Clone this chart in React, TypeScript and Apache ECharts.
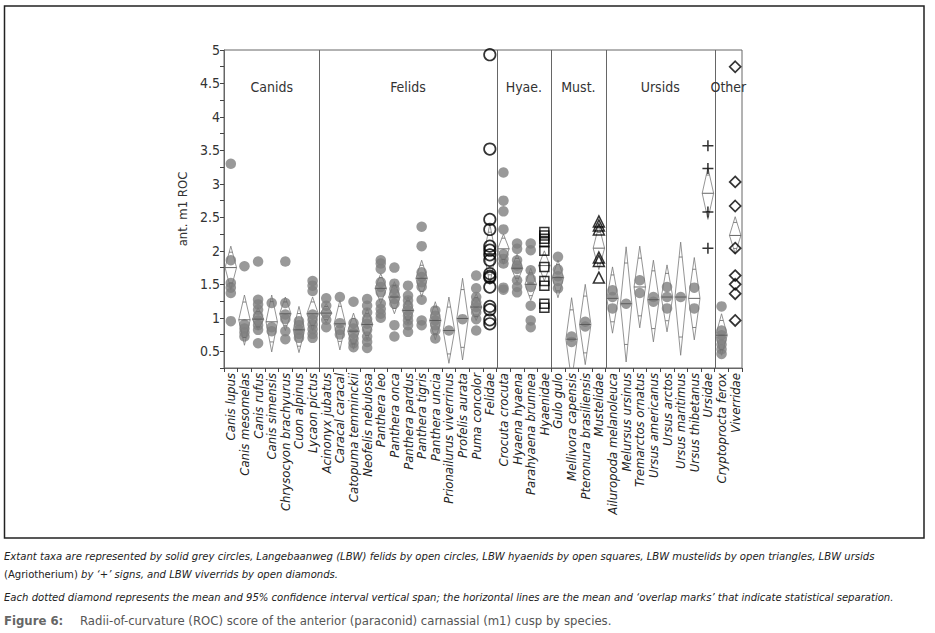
import React, { useEffect, useRef } from "react";
import * as echarts from "echarts";

const FONT = '"Liberation Sans Narrow", "Arial Narrow", "DejaVu Sans Condensed", "Liberation Sans", sans-serif';

// Categories (x axis), by group
const canids = ["Canis lupus", "Canis mesomelas", "Canis rufus", "Canis simensis", "Chrysocyon brachyurus", "Cuon alpinus", "Lycaon pictus"];
const felids = ["Acinonyx jubatus", "Caracal caracal", "Catopuma temminckii", "Neofelis nebulosa", "Panthera leo", "Panthera onca", "Panthera pardus", "Panthera tigris", "Panthera uncia", "Prionailurus viverrinus", "Profelis aurata", "Puma concolor", "Felidae"];
const hyaenids = ["Crocuta crocuta", "Hyaena hyaena", "Parahyaena brunnea", "Hyaenidae"];
const mustelids = ["Gulo gulo", "Mellivora capensis", "Pteronura brasiliensis", "Mustelidae"];
const ursids = ["Ailuropoda melanoleuca", "Melursus ursinus", "Tremarctos ornatus", "Ursus americanus", "Ursus arctos", "Ursus maritimus", "Ursus thibetanus", "Ursidae"];
const others = ["Cryptoprocta ferox", "Viverridae"];
const groupNames = ["Canids", "Felids", "Hyae.", "Must.", "Ursids", "Other"];
const groupLists = [canids, felids, hyaenids, mustelids, ursids, others];
const categories = groupLists.flat();

// y axis
const yMin = 0.25;
const yMax = 5;
const yStep = 0.25;

// Extant taxa (solid grey circles)
const extantSpecies = [
  "Canis lupus", "Canis mesomelas", "Canis rufus", "Canis simensis", "Chrysocyon brachyurus", "Cuon alpinus", "Lycaon pictus",
  "Acinonyx jubatus", "Caracal caracal", "Catopuma temminckii", "Neofelis nebulosa", "Panthera leo", "Panthera onca", "Panthera pardus", "Panthera tigris", "Panthera uncia", "Prionailurus viverrinus", "Profelis aurata", "Puma concolor",
  "Crocuta crocuta", "Hyaena hyaena", "Parahyaena brunnea",
  "Gulo gulo", "Mellivora capensis", "Pteronura brasiliensis",
  "Ailuropoda melanoleuca", "Melursus ursinus", "Tremarctos ornatus", "Ursus americanus", "Ursus arctos", "Ursus maritimus", "Ursus thibetanus",
  "Cryptoprocta ferox",
];
const extantValues = [
  [3.3, 1.86, 1.52, 1.45, 1.37, 0.95],
  [1.77, 0.9, 0.84, 0.78, 0.72],
  [1.84, 1.27, 1.2, 1.12, 1.03, 0.96, 0.89, 0.82, 0.62],
  [1.22, 0.86, 0.8],
  [1.84, 1.22, 1.05, 0.98, 0.8, 0.68],
  [0.95, 0.89, 0.82, 0.76, 0.7],
  [1.55, 1.48, 1.4, 1.05, 0.97, 0.9, 0.83, 0.76, 0.7],
  [1.29, 1.18, 1.07, 0.97, 0.86],
  [1.31, 0.92, 0.82, 0.75],
  [1.24, 0.92, 0.84, 0.77, 0.69, 0.62, 0.56],
  [1.28, 1.18, 1.08, 0.98, 0.91, 0.82, 0.72, 0.64, 0.55],
  [1.86, 1.81, 1.73, 1.53, 1.46, 1.38, 1.21, 1.13, 1.06, 1.0],
  [1.75, 1.51, 1.43, 1.36, 1.28, 1.21, 0.89, 0.72],
  [1.48, 1.33, 1.26, 1.18, 1.11, 1.03, 0.96, 0.89, 0.79],
  [2.36, 2.07, 1.68, 1.61, 1.53, 1.46, 1.27, 0.96, 0.89],
  [1.11, 1.03, 0.96, 0.89, 0.81, 0.69],
  [0.81],
  [0.98],
  [1.63, 1.44, 1.31, 1.23, 1.16, 1.08, 0.98, 0.81],
  [3.17, 2.75, 2.59, 2.32, 1.95, 1.88, 1.81, 1.45, 1.42],
  [2.11, 2.03, 1.86, 1.78, 1.73, 1.56, 1.46, 1.38],
  [2.11, 2.01, 1.71, 1.58, 1.46, 1.18, 0.96, 0.86],
  [1.91, 1.72, 1.62, 1.55, 1.44],
  [0.72, 0.64],
  [0.94, 0.87],
  [1.41, 1.31, 1.14],
  [1.21],
  [1.56, 1.37],
  [1.31, 1.24],
  [1.46, 1.31, 1.14],
  [1.31],
  [1.45, 1.14],
  [1.17, 0.81, 0.74, 0.67, 0.6, 0.53, 0.46],
];

// Langebaanweg (LBW) fossil taxa
const lbwFelidae = [4.93, 3.52, 2.47, 2.32, 2.07, 2.01, 1.94, 1.86, 1.66, 1.62, 1.6, 1.46, 1.17, 1.12, 0.97, 0.91];
const lbwHyaenidae = [2.28, 2.23, 2.18, 2.13, 2.0, 1.76, 1.55, 1.48, 1.21, 1.15];
const lbwMustelidae = [2.44, 2.38, 2.32, 1.9, 1.85, 1.6];
const lbwUrsidae = [3.57, 3.23, 2.58, 2.04];
const lbwViverridae = [4.75, 3.03, 2.67, 2.04, 1.63, 1.5, 1.36, 0.96];

// Means diamonds (mean, lower and upper 95% CI), in category order
const ciMean = [
  1.75, 0.97, 0.98, 0.94, 1.06, 0.82, 1.06,
  1.07, 0.91, 0.8, 0.9, 1.44, 1.31, 1.11, 1.59, 0.96, 0.81, 0.99, 1.16, 1.96,
  2.03, 1.74, 1.5, 1.78,
  1.6, 0.68, 0.9, 2.04,
  1.29, 1.21, 1.46, 1.27, 1.31, 1.31, 1.29, 2.86,
  0.74, 2.23,
];
const ciLower = [
  1.42, 0.59, 0.82, 0.49, 0.81, 0.48, 0.81,
  0.93, 0.52, 0.53, 0.67, 1.21, 1.06, 0.91, 1.31, 0.67, 0.32, 0.37, 0.96, 1.5,
  1.8, 1.53, 1.26, 1.55,
  1.3, 0.06, 0.3, 1.72,
  0.77, 0.34, 0.85, 0.64, 0.79, 0.44, 0.67, 2.47,
  0.44, 1.96,
];
const ciUpper = [
  2.07, 1.34, 1.15, 1.34, 1.31, 1.17, 1.31,
  1.21, 1.26, 1.07, 1.14, 1.66, 1.54, 1.31, 1.86, 1.24, 1.31, 1.59, 1.36, 2.4,
  2.25, 1.95, 1.74, 2.0,
  1.86, 1.3, 1.5, 2.38,
  1.76, 2.06, 2.07, 1.86, 1.79, 2.13, 1.9, 3.24,
  1.06, 2.51,
];

const captionLine1 = "Extant taxa are represented by solid grey circles, Langebaanweg (LBW) felids by open circles, LBW hyaenids by open squares, LBW mustelids by open triangles, LBW ursids";
const captionLine2a = "(Agriotherium)";
const captionLine2b = " by \u2018+\u2019 signs, and LBW viverrids by open diamonds.";
const captionLine3 = "Each dotted diamond represents the mean and 95% confidence interval vertical span; the horizontal lines are the mean and \u2018overlap marks\u2019 that indicate statistical separation.";
const figureLabel = "Figure 6:";
const figureTitle = "Radii-of-curvature (ROC) score of the anterior (paraconid) carnassial (m1) cusp by species.";

const PLUS = "path://M4.3,0H5.7V4.3H10V5.7H5.7V10H4.3V5.7H0V4.3H4.3Z";

function pointsFor(name: string, values: number[]) {
  return values.map((v) => [name, v]);
}

export default function App() {
  const ref = useRef<HTMLDivElement>(null);
  useEffect(() => {
    if (!ref.current) return;
    const chart = echarts.init(ref.current, null, { renderer: "svg" });

    const extantData: any[] = [];
    extantSpecies.forEach((s, i) => extantData.push(...pointsFor(s, extantValues[i])));

    const diamondData = categories.map((_, i) => [i, ciMean[i], ciLower[i], ciUpper[i]]);

    const boundaries: number[][] = [];
    const groupSpans: number[][] = [];
    let acc = 0;
    groupLists.forEach((g, gi) => {
      groupSpans.push([acc, acc + g.length - 1, gi]);
      acc += g.length;
      if (gi < groupLists.length - 1) boundaries.push([acc, 1]);
    });

    const openStyle = { color: "rgba(255,255,255,0)", borderColor: "#000", borderWidth: 1.7 };
    const capSize = 11.2;

    const option: any = {
      animation: false,
      grid: { left: 224, right: 193, top: 50, bottom: 265, show: true, borderColor: "#666", borderWidth: 1, backgroundColor: "transparent" },
      xAxis: {
        type: "category",
        data: categories,
        boundaryGap: true,
        axisLine: { lineStyle: { color: "#666", width: 1 } },
        axisTick: { show: true, length: 4, lineStyle: { color: "#444" } },
        axisLabel: {
          interval: 0,
          rotate: 90,
          margin: 5,
          fontFamily: FONT,
          fontStyle: "italic",
          fontSize: 13,
          color: "#222",
        },
        splitLine: { show: false },
      },
      yAxis: {
        type: "value",
        min: yMin,
        max: yMax,
        interval: yStep,
        name: "ant. m1 ROC",
        nameLocation: "middle",
        nameGap: 22,
        nameTextStyle: { fontFamily: FONT, fontSize: 13, color: "#333" },
        axisLine: { show: true, lineStyle: { color: "#666", width: 1 } },
        axisTick: { show: true, length: 4, lineStyle: { color: "#444" } },
        axisLabel: {
          fontFamily: FONT,
          fontSize: 14,
          color: "#333",
          margin: 4,
          formatter: (v: number) => (Math.abs(v * 2 - Math.round(v * 2)) < 1e-6 ? String(v) : ""),
        },
        splitLine: { show: false },
      },
      series: [
        {
          type: "custom",
          name: "separators",
          silent: true,
          data: boundaries,
          encode: { x: 0, y: 1 },
          renderItem: (params: any, api: any) => {
            const idx = api.value(0);
            const cs = params.coordSys;
            const bw = cs.width / categories.length;
            const x = Math.round(cs.x + idx * bw) + 0.5;
            return {
              type: "line",
              shape: { x1: x, y1: cs.y, x2: x, y2: cs.y + cs.height },
              style: { stroke: "#666", lineWidth: 1 },
            };
          },
          z: 1,
        },
        {
          type: "custom",
          name: "groupLabels",
          silent: true,
          data: groupSpans,
          encode: { x: 0, y: 1 },
          renderItem: (params: any, api: any) => {
            const a = api.value(0);
            const b = api.value(1);
            const gi = api.value(2);
            const cs = params.coordSys;
            const bw = cs.width / categories.length;
            const x = cs.x + ((a + b + 1) / 2) * bw;
            return {
              type: "text",
              x,
              y: cs.y + 37,
              style: {
                text: groupNames[gi],
                fill: "#333",
                fontFamily: FONT,
                fontSize: 14,
                align: "center",
                verticalAlign: "middle",
              },
            };
          },
          z: 2,
        },
        {
          type: "scatter",
          name: "Extant",
          data: extantData,
          symbol: "circle",
          symbolSize: 10.5,
          itemStyle: { color: "#808080" },
          z: 3,
        },
        {
          type: "custom",
          name: "diamonds",
          silent: true,
          clip: true,
          data: diamondData,
          encode: { x: 0, y: 1 },
          renderItem: (params: any, api: any) => {
            const i = api.value(0);
            const m = api.value(1);
            const lo = api.value(2);
            const hi = api.value(3);
            const c = api.coord([i, m]);
            const yTop = api.coord([i, hi])[1];
            const yBot = api.coord([i, lo])[1];
            const bw = api.size([1, 0])[0];
            const hw = bw * 0.42;
            const d = (hi - lo) / 2 / Math.SQRT2;
            const y1 = api.coord([i, m + d])[1];
            const y2 = api.coord([i, m - d])[1];
            const ow = hw * (1 - 1 / Math.SQRT2);
            const cs = params.coordSys;
            return {
              type: "group",
              clipPath: { type: "rect", shape: { x: cs.x, y: cs.y, width: cs.width, height: cs.height } },
              children: [
                {
                  type: "polygon",
                  shape: { points: [[c[0], yTop], [c[0] + hw, c[1]], [c[0], yBot], [c[0] - hw, c[1]]] },
                  style: { fill: "none", stroke: "#7a7a7a", lineWidth: 0.8 },
                },
                { type: "line", shape: { x1: c[0] - hw, y1: c[1], x2: c[0] + hw, y2: c[1] }, style: { stroke: "#555", lineWidth: 0.9 } },
                { type: "line", shape: { x1: c[0] - ow, y1: y1, x2: c[0] + ow, y2: y1 }, style: { stroke: "#666", lineWidth: 0.8 } },
                { type: "line", shape: { x1: c[0] - ow, y1: y2, x2: c[0] + ow, y2: y2 }, style: { stroke: "#666", lineWidth: 0.8 } },
              ],
            };
          },
          z: 4,
        },
        {
          type: "scatter",
          name: "LBW Felidae",
          data: pointsFor("Felidae", lbwFelidae),
          symbol: "circle",
          symbolSize: 11.5,
          itemStyle: openStyle,
          z: 5,
        },
        {
          type: "scatter",
          name: "LBW Hyaenidae",
          data: pointsFor("Hyaenidae", lbwHyaenidae),
          symbol: "rect",
          symbolSize: 9,
          itemStyle: { ...openStyle, borderWidth: 1.5 },
          z: 5,
        },
        {
          type: "scatter",
          name: "LBW Mustelidae",
          data: pointsFor("Mustelidae", lbwMustelidae),
          symbol: "triangle",
          symbolSize: 11,
          itemStyle: { ...openStyle, borderWidth: 1.5 },
          z: 5,
        },
        {
          type: "scatter",
          name: "LBW Ursidae",
          data: pointsFor("Ursidae", lbwUrsidae),
          symbol: PLUS,
          symbolSize: 11,
          itemStyle: { color: "#000" },
          z: 5,
        },
        {
          type: "scatter",
          name: "LBW Viverridae",
          data: pointsFor("Viverridae", lbwViverridae),
          symbol: "diamond",
          symbolSize: 11,
          itemStyle: { ...openStyle, borderWidth: 1.7 },
          z: 5,
        },
      ],
      graphic: [
        {
          type: "rect",
          shape: { x: 4.5, y: 6, width: 919.5, height: 532 },
          style: { fill: "none", stroke: "#222", lineWidth: 1.5 },
          silent: true,
        },
        {
          type: "text",
          x: 4,
          y: 556,
          style: { text: captionLine1, fill: "#222", fontFamily: FONT, fontStyle: "italic", fontSize: capSize, verticalAlign: "middle" },
        },
        {
          type: "text",
          x: 4,
          y: 574,
          style: {
            text: "{a|" + captionLine2a + "}{b|" + captionLine2b + "}",
            verticalAlign: "middle",
            rich: {
              a: { fill: "#222", fontFamily: FONT, fontStyle: "normal", fontSize: capSize },
              b: { fill: "#222", fontFamily: FONT, fontStyle: "italic", fontSize: capSize },
            },
          },
        },
        {
          type: "text",
          x: 4,
          y: 597,
          style: { text: captionLine3, fill: "#222", fontFamily: FONT, fontStyle: "italic", fontSize: capSize, verticalAlign: "middle" },
        },
        {
          type: "text",
          x: 4,
          y: 620,
          style: { text: figureLabel, fill: "#666", fontFamily: FONT, fontWeight: "bold", fontSize: 13, verticalAlign: "middle" },
        },
        {
          type: "text",
          x: 80,
          y: 620,
          style: { text: figureTitle, fill: "#555", fontFamily: FONT, fontSize: 13, verticalAlign: "middle" },
        },
      ],
    };

    chart.setOption(option);
    return () => chart.dispose();
  }, []);

  return (
    <div
      ref={ref}
      style={{ position: "fixed", left: 0, top: 0, width: 935, height: 633, background: "#fff" }}
    />
  );
}
